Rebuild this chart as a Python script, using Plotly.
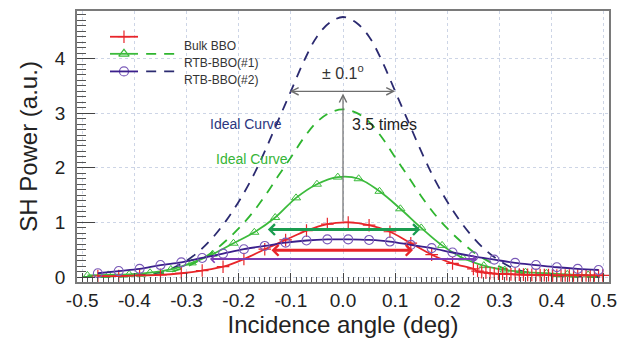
import plotly.graph_objects as go

# ---------------- data ----------------
# measured, Bulk BBO (red, "+")
bulk_x = [-0.47, -0.43, -0.39, -0.35, -0.31, -0.27, -0.23, -0.19, -0.15, -0.11, -0.07, -0.03,
          0.01, 0.05, 0.09, 0.13, 0.17, 0.21, 0.25,
          0.258, 0.266, 0.274, 0.282, 0.29, 0.298, 0.306, 0.314, 0.322, 0.33, 0.338, 0.346,
          0.354, 0.362, 0.37, 0.378, 0.386, 0.394, 0.402, 0.41, 0.418, 0.426, 0.434, 0.442,
          0.45, 0.458, 0.466, 0.474, 0.482, 0.49, 0.498]
bulk_y = [0.02, 0.02, 0.03, 0.04, 0.07, 0.12, 0.19, 0.33, 0.51, 0.68, 0.85, 0.97,
          1.00, 0.95, 0.83, 0.62, 0.41, 0.25, 0.15,
          0.11, 0.09, 0.08, 0.07, 0.065, 0.06, 0.06, 0.055, 0.05, 0.05, 0.045, 0.045,
          0.04, 0.04, 0.04, 0.035, 0.035, 0.035, 0.03, 0.03, 0.03, 0.03, 0.03, 0.03,
          0.03, 0.03, 0.03, 0.03, 0.03, 0.03, 0.03]

# measured, RTB-BBO(#1) (green, triangles)
rtb1_x = [-0.49, -0.45, -0.41, -0.37, -0.33, -0.29, -0.25, -0.21, -0.17, -0.13, -0.09, -0.05,
          -0.01, 0.03, 0.07, 0.11, 0.15, 0.19, 0.23, 0.27, 0.31, 0.35, 0.39, 0.43, 0.47]
rtb1_y = [0.03, 0.04, 0.05, 0.08, 0.14, 0.26, 0.42, 0.62, 0.82, 1.09, 1.45, 1.70,
          1.83, 1.80, 1.57, 1.25, 0.90, 0.58, 0.35, 0.21, 0.13, 0.09, 0.07, 0.05, 0.04]

# measured, RTB-BBO(#2) (purple, circles)
rtb2_x = [-0.47, -0.43, -0.39, -0.35, -0.31, -0.27, -0.23, -0.19, -0.15, -0.11, -0.07, -0.03,
          0.01, 0.05, 0.09, 0.13, 0.17, 0.21, 0.25, 0.29, 0.33, 0.37, 0.41, 0.45, 0.49]
rtb2_y = [0.07, 0.11, 0.15, 0.22, 0.27, 0.35, 0.43, 0.51, 0.57, 0.63, 0.67, 0.69,
          0.69, 0.68, 0.65, 0.59, 0.53, 0.45, 0.38, 0.32, 0.26, 0.22, 0.18, 0.15, 0.13]

# ideal curves (dashed)
ideal_x = [-0.5, -0.475, -0.45, -0.425, -0.4, -0.375, -0.35, -0.325, -0.3, -0.275, -0.25,
           -0.225, -0.2, -0.175, -0.15, -0.125, -0.1, -0.075, -0.05, -0.025, 0.0,
           0.025, 0.05, 0.075, 0.1, 0.125, 0.15, 0.175, 0.2, 0.225, 0.25,
           0.275, 0.3, 0.325, 0.35, 0.375, 0.4, 0.425, 0.45, 0.475, 0.5]
ideal1_y = [0.0, 0.003, 0.006, 0.01, 0.02, 0.03, 0.06, 0.11, 0.19, 0.31, 0.46,
            0.66, 0.89, 1.16, 1.48, 1.84, 2.19, 2.55, 2.84, 3.01, 3.07,
            3.01, 2.84, 2.55, 2.19, 1.84, 1.48, 1.16, 0.89, 0.66, 0.46,
            0.31, 0.19, 0.11, 0.06, 0.03, 0.02, 0.01, 0.006, 0.003, 0.0]
ideal2_y = [0.0, 0.005, 0.01, 0.015, 0.03, 0.05, 0.09, 0.17, 0.30, 0.48, 0.72,
            1.02, 1.38, 1.80, 2.30, 2.85, 3.40, 3.95, 4.40, 4.66, 4.76,
            4.66, 4.40, 3.95, 3.40, 2.85, 2.30, 1.80, 1.38, 1.02, 0.72,
            0.48, 0.30, 0.17, 0.09, 0.05, 0.03, 0.015, 0.01, 0.005, 0.0]

# width arrows (level, left end, right end)
width_levels = [0.87, 0.49, 0.33]
width_left = [-0.147, -0.14, -0.258]
width_right = [0.148, 0.134, 0.257]
width_colors = ["#1a9c50", "#e8252a", "#7a3cb4"]
width_lw = [3, 3, 2]

x_ticks = [-0.5, -0.4, -0.3, -0.2, -0.1, 0.0, 0.1, 0.2, 0.3, 0.4, 0.5]
x_tick_labels = ["-0.5", "-0.4", "-0.3", "-0.2", "-0.1", "0.0", "0.1", "0.2", "0.3", "0.4", "0.5"]
y_ticks = [0, 1, 2, 3, 4]
y_tick_labels = ["0", "1", "2", "3", "4"]

legend_names = ["Bulk BBO", "RTB-BBO(#1)", "RTB-BBO(#2)"]

RED = "#e8252a"
GREEN = "#3cbb3c"
GREEN_D = "#2fb52f"
PURPLE_L = "#3b1f8c"
PURPLE_M = "#7a5ab8"
NAVY_D = "#2b2a70"

FONT = "Liberation Sans, Arial, sans-serif"

fig = go.Figure()

fig.add_trace(go.Scatter(x=ideal_x, y=ideal2_y, mode="lines",
                         line=dict(color=NAVY_D, width=1.8, dash="10px,8px", shape="spline"),
                         showlegend=False))
fig.add_trace(go.Scatter(x=ideal_x, y=ideal1_y, mode="lines",
                         line=dict(color=GREEN_D, width=1.8, dash="10px,8px", shape="spline"),
                         showlegend=False))
fig.add_trace(go.Scatter(x=rtb1_x, y=rtb1_y, mode="lines+markers",
                         line=dict(color=GREEN, width=1.8, shape="spline"),
                         marker=dict(symbol="triangle-up-open", size=8, color=GREEN, line=dict(width=1)),
                         showlegend=False))
fig.add_trace(go.Scatter(x=bulk_x, y=bulk_y, mode="lines+markers",
                         line=dict(color=RED, width=1.8, shape="spline"),
                         marker=dict(symbol="cross-thin", size=9, color=RED, line=dict(width=1.2, color=RED)),
                         showlegend=False))
fig.add_trace(go.Scatter(x=rtb2_x, y=rtb2_y, mode="lines+markers",
                         line=dict(color=PURPLE_L, width=1.8, shape="spline"),
                         marker=dict(symbol="circle-open", size=9, color=PURPLE_M, line=dict(width=1.1)),
                         showlegend=False))

annotations = []
# width arrows
for lv, xl, xr, c, lw in zip(width_levels, width_left, width_right, width_colors, width_lw):
    annotations.append(dict(x=xr, y=lv, ax=xl, ay=lv, xref="x", yref="y", axref="x", ayref="y",
                            text="", showarrow=True, arrowhead=4, startarrowhead=4,
                            arrowside="end+start", arrowwidth=lw, arrowsize=0.7, startarrowsize=0.7,
                            arrowcolor=c, standoff=0, startstandoff=0))
# +-0.1 deg arrow
annotations.append(dict(x=0.1, y=3.4, ax=-0.105, ay=3.4, xref="x", yref="y", axref="x", ayref="y",
                        text="", showarrow=True, arrowhead=5, startarrowhead=5, arrowside="end+start",
                        arrowwidth=1.2, arrowsize=1.2, startarrowsize=1.2, arrowcolor="#6e6e6e"))
# 3.5 times vertical arrow
annotations.append(dict(x=0.0, y=3.36, ax=0.0, ay=1.0, xref="x", yref="y", axref="x", ayref="y",
                        text="", showarrow=True, arrowhead=5, arrowwidth=1.2, arrowsize=1.2,
                        arrowcolor="#6e6e6e"))
annotations.append(dict(x=0.0, y=3.76, xref="x", yref="y", text="± 0.1<sup>o</sup>", showarrow=False,
                        font=dict(family=FONT, size=16, color="#333333")))
annotations.append(dict(x=0.013, y=2.8, xref="x", yref="y", text="3.5 times", showarrow=False,
                        xanchor="left", font=dict(family=FONT, size=16, color="#222222")))
annotations.append(dict(x=-0.186, y=2.8, xref="x", yref="y", text="Ideal Curve", showarrow=False,
                        font=dict(family=FONT, size=14, color="#2a3680")))
annotations.append(dict(x=-0.174, y=2.16, xref="x", yref="y", text="Ideal Curve", showarrow=False,
                        font=dict(family=FONT, size=14, color="#36b536")))

# manual legend (paper coordinates)
leg_y = [0.905, 0.842, 0.777]
leg_colors = [RED, GREEN, PURPLE_L]
leg_dash_colors = [None, GREEN_D, NAVY_D]
leg_symbols = ["cross-thin", "triangle-up-open", "circle-open"]
leg_mcolors = [RED, GREEN, PURPLE_M]
shapes = []
for ly, c, dc in zip(leg_y, leg_colors, leg_dash_colors):
    shapes.append(dict(type="line", xref="paper", yref="paper", x0=0.062, x1=0.1147, y0=ly, y1=ly,
                       line=dict(color=c, width=1.8)))
    if dc:
        shapes.append(dict(type="line", xref="paper", yref="paper", x0=0.13, x1=0.184, y0=ly, y1=ly,
                           line=dict(color=dc, width=1.8, dash="10px,8px")))
for ly, name in zip(leg_y, legend_names):
    annotations.append(dict(x=0.197, y=ly, xref="paper", yref="paper", text=name, showarrow=False,
                            xanchor="left", font=dict(family=FONT, size=12, color="#333333")))
for ly, sym, mc in zip(leg_y, leg_symbols, leg_mcolors):
    fig.add_trace(go.Scatter(x=[0.0883], y=[ly], mode="markers", xaxis="x2", yaxis="y2",
                             marker=dict(symbol=sym, size=9, color=mc, line=dict(width=1.2, color=mc)),
                             showlegend=False, hoverinfo="skip"))

fig.update_layout(
    width=634, height=343,
    margin=dict(l=77, r=25, t=9, b=61),
    paper_bgcolor="white", plot_bgcolor="white",
    showlegend=False,
    font=dict(family=FONT, color="#222222"),
    annotations=annotations, shapes=shapes,
    xaxis=dict(range=[-0.51, 0.51], tickvals=x_ticks, ticktext=x_tick_labels,
               tickfont=dict(size=19, color="#222222"),
               ticks="inside", ticklen=9, tickcolor="#444444", tickwidth=1,
               minor=dict(dtick=0.01, tick0=0, ticks="inside", ticklen=5, tickcolor="#555555", showgrid=False),
               showgrid=True, gridcolor="#cdd5e6", griddash="dot", gridwidth=1,
               showline=True, mirror=True, linecolor="#7a7a7a", linewidth=1.5,
               zeroline=False,
               title=dict(text="Incidence angle (deg)", font=dict(size=24, color="#222222"), standoff=6)),
    yaxis=dict(range=[-0.09, 4.87], tickvals=y_ticks, ticktext=y_tick_labels,
               tickfont=dict(size=19, color="#222222"),
               ticks="inside", ticklen=18, tickcolor="#444444", tickwidth=1,
               minor=dict(dtick=0.1, tick0=0, ticks="inside", ticklen=9, tickcolor="#555555", showgrid=False),
               showgrid=True, gridcolor="#cdd5e6", griddash="dot", gridwidth=1,
               showline=True, mirror=True, linecolor="#7a7a7a", linewidth=1.5,
               zeroline=False, ticklabelstandoff=6,
               title=dict(text="SH Power (a.u.)", font=dict(size=24, color="#222222"), standoff=10)),
    xaxis2=dict(overlaying="x", range=[0, 1], visible=False),
    yaxis2=dict(overlaying="y", range=[0, 1], visible=False),
)

fig.write_html("out.html")
